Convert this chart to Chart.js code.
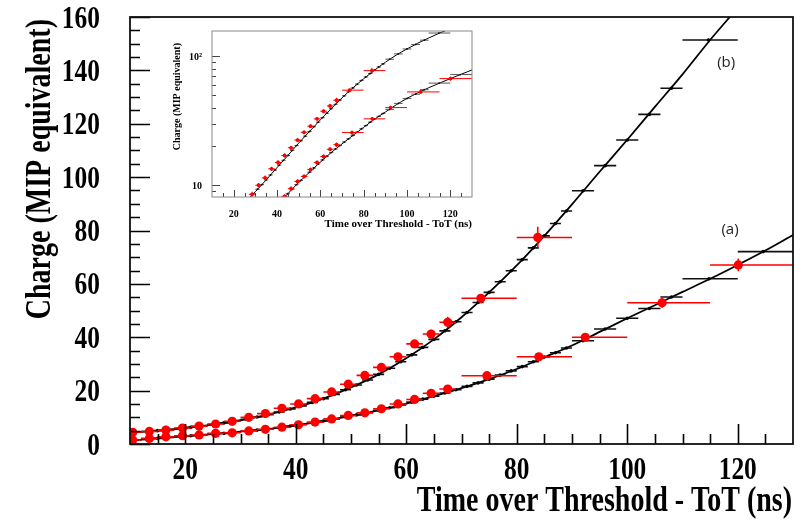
<!DOCTYPE html>
<html>
<head>
<meta charset="utf-8">
<title>Charge vs Time over Threshold</title>
<script src="https://cdn.jsdelivr.net/npm/chart.js@4.4.1/dist/chart.umd.min.js"></script>
<style>
    html, body { margin: 0; padding: 0; background: #fff; }
    #wrap { position: relative; width: 804px; height: 521px; }
    #main { position: absolute; left: 0; top: 0; }
    #inset { position: absolute; left: 160px; top: 22px; background: #fff; }
</style>
</head>
<body>
<div id="wrap">
    <canvas id="main" width="804" height="521"></canvas>
    <canvas id="inset" width="320" height="215"></canvas>
</div>
<script>
    'use strict';

    // axis ticks
    const TOT_TICKS = [20, 40, 60, 80, 100, 120];
    const CHARGE_TICKS = [0, 20, 40, 60, 80, 100, 120, 140, 160];
    const INSET_CHARGE_TICKS = [10, 100];
    const INSET_CHARGE_LABELS = ['10', '10²'];
    const INSET_CHARGE_MINOR = [9, 20, 30, 40, 50, 60, 70, 80, 90];

    // measured points (red), curve (b)
    const dataTotB = [10.5, 13.5, 16.5, 19.5, 22.5, 25.5, 28.5, 31.5, 34.5, 37.5, 40.5, 43.5, 46.5, 49.5, 52.5, 55.5, 58.5, 61.5, 64.5, 67.5, 73.5, 83.8];
    const dataLoB = [9, 12, 15, 18, 21, 24, 27, 30, 33, 36, 39, 42, 45, 48, 51, 54, 57, 60, 63, 66, 70, 80];
    const dataHiB = [12, 15, 18, 21, 24, 27, 30, 33, 36, 39, 42, 45, 48, 51, 54, 57, 60, 63, 66, 69, 80, 90];
    const dataChargeB = [4.4, 4.7, 5.2, 6.0, 6.7, 7.5, 8.5, 10.0, 11.4, 13.4, 15.0, 17.0, 19.5, 22.4, 25.7, 28.7, 32.7, 37.5, 41.2, 45.6, 54.6, 77.4];
    const dataErrB = [0.3, 0.3, 0.3, 0.3, 0.3, 0.4, 0.4, 0.4, 0.5, 0.5, 0.6, 0.6, 0.7, 0.8, 0.9, 1.0, 1.1, 1.3, 1.6, 2.1, 1.5, 4.0];

    // measured points (red), curve (a)
    const dataTotA = [10.5, 13.5, 16.5, 19.5, 22.5, 25.5, 28.5, 31.5, 34.5, 37.5, 40.5, 43.5, 46.5, 49.5, 52.5, 55.5, 58.5, 61.5, 64.5, 67.5, 74.6, 84.0, 92.4, 106.3, 120.1];
    const dataLoA = [9, 12, 15, 18, 21, 24, 27, 30, 33, 36, 39, 42, 45, 48, 51, 54, 57, 60, 63, 66, 70, 80, 90, 100, 115];
    const dataHiA = [12, 15, 18, 21, 24, 27, 30, 33, 36, 39, 42, 45, 48, 51, 54, 57, 60, 63, 66, 69, 80, 90, 100, 115, 130];
    const dataChargeA = [1.5, 2.1, 2.7, 3.1, 3.4, 4.0, 4.2, 4.9, 5.5, 6.3, 7.2, 8.2, 9.4, 10.7, 11.7, 13.2, 15.0, 16.7, 19.0, 20.6, 25.6, 32.7, 40.0, 52.9, 67.1];
    const dataErrA = [0.2, 0.2, 0.2, 0.2, 0.2, 0.2, 0.2, 0.3, 0.3, 0.3, 0.3, 0.3, 0.4, 0.4, 0.4, 0.5, 0.5, 0.6, 0.6, 0.8, 0.9, 1.0, 1.2, 1.8, 2.4];

    // simulation points (black), curve (b)
    const simTotB = [11, 13, 15, 17, 19, 21, 23, 25, 27, 29, 31, 33, 35, 37, 39, 41, 43, 45, 47, 49, 51, 53, 55, 57, 59, 61, 63, 65, 67, 69, 71, 73, 75, 77, 79, 81, 83, 85, 87, 89, 92, 96, 100, 104, 108, 114.7];
    const simEdgesB = [10, 12, 14, 16, 18, 20, 22, 24, 26, 28, 30, 32, 34, 36, 38, 40, 42, 44, 46, 48, 50, 52, 54, 56, 58, 60, 62, 64, 66, 68, 70, 72, 74, 76, 78, 80, 82, 84, 86, 88, 90, 94, 98, 102, 106, 110, 120];
    const simChargeB = [4.4, 4.7, 5.0, 5.4, 5.8, 6.3, 6.8, 7.3, 7.9, 8.6, 9.3, 10.1, 11.0, 12.0, 13.1, 14.3, 15.6, 17.0, 18.6, 20.3, 22.1, 24.0, 26.1, 28.4, 30.8, 33.4, 36.2, 39.2, 42.4, 45.8, 49.3, 53.0, 56.8, 60.8, 64.9, 69.1, 73.5, 78.0, 82.6, 87.3, 94.9, 104.3, 113.9, 123.5, 133.3, 151.4];

    // simulation points (black), curve (a)
    const simTotA = [11, 13, 15, 17, 19, 21, 23, 25, 27, 29, 31, 33, 35, 37, 39, 41, 43, 45, 47, 49, 51, 53, 55, 57, 59, 61, 63, 65, 67, 69, 71, 73, 75, 77, 79, 81, 83, 85, 87, 89, 92, 96, 100, 104, 108, 114.8, 124.6];
    const simEdgesA = [10, 12, 14, 16, 18, 20, 22, 24, 26, 28, 30, 32, 34, 36, 38, 40, 42, 44, 46, 48, 50, 52, 54, 56, 58, 60, 62, 64, 66, 68, 70, 72, 74, 76, 78, 80, 82, 84, 86, 88, 90, 94, 98, 102, 106, 110, 120, 130];
    const simChargeA = [1.5, 1.8, 2.1, 2.5, 2.8, 3.1, 3.4, 3.7, 4.0, 4.4, 4.8, 5.2, 5.6, 6.1, 6.7, 7.3, 7.9, 8.6, 9.3, 10.1, 10.9, 11.7, 12.6, 13.6, 14.6, 15.7, 16.8, 17.9, 19.1, 20.3, 21.6, 22.9, 24.3, 25.8, 27.4, 29.0, 30.8, 32.6, 34.2, 36.0, 38.7, 43.1, 47.1, 50.8, 55.1, 61.9, 72.1];

    // fitted curves
    const fitTot = [10, 15, 20, 25, 30, 35, 40, 45, 50, 55, 60, 65, 70, 75, 80, 85, 90, 95, 100, 105, 110, 115, 120, 125, 130];
    const fitChargeB = [4.3, 5.0, 6.0, 7.3, 8.9, 11.0, 13.7, 17.0, 21.2, 26.1, 32.1, 39.2, 47.5, 56.8, 66.9, 78.0, 89.8, 102.0, 114.0, 126.3, 138.5, 151.4, 163.5, 176.0, 189.0];
    const fitChargeA = [1.3, 2.1, 2.95, 3.7, 4.6, 5.6, 7.0, 8.6, 10.5, 12.6, 15.1, 17.9, 20.9, 24.3, 28.1, 32.5, 36.9, 42.0, 47.1, 52.0, 57.0, 61.9, 67.1, 72.5, 78.3];

    const curveLabels = [
        { text: '(b)', x: 117.9, y: 142.7 },
        { text: '(a)', x: 118.6, y: 80.2 },
    ];

    const RED = '#ff0000';
    const SERIF = '"Liberation Serif", "Times New Roman", serif';

    function points(xs, ys, lo, hi, err) {
        return xs.map(function (x, i) {
            return {
                x: x,
                y: ys[i],
                xMin: lo[i],
                xMax: hi[i],
                yMin: err ? ys[i] - err[i] : undefined,
                yMax: err ? ys[i] + err[i] : undefined,
            };
        });
    }

    function curve(xs, ys) {
        return xs.map(function (x, i) { return { x: x, y: ys[i] }; });
    }

    function buildDatasets(s) {
        return [
            {
                label: 'Data (b)',
                data: points(dataTotB, dataChargeB, dataLoB, dataHiB, dataErrB),
                pointRadius: s.red, backgroundColor: RED, borderWidth: 0,
                errorBars: { color: RED, width: s.bar },
            },
            {
                label: 'Data (a)',
                data: points(dataTotA, dataChargeA, dataLoA, dataHiA, dataErrA),
                pointRadius: s.red, backgroundColor: RED, borderWidth: 0,
                errorBars: { color: RED, width: s.bar },
            },
            {
                label: 'Sim (b)',
                data: points(simTotB, simChargeB, simEdgesB.slice(0, -1), simEdgesB.slice(1)),
                pointRadius: s.black, backgroundColor: '#000', borderWidth: 0,
                errorBars: { color: s.simColor, width: s.bar },
            },
            {
                label: 'Sim (a)',
                data: points(simTotA, simChargeA, simEdgesA.slice(0, -1), simEdgesA.slice(1)),
                pointRadius: s.black, backgroundColor: '#000', borderWidth: 0,
                errorBars: { color: s.simColor, width: s.bar },
            },
            {
                label: 'Fit (b)',
                data: curve(fitTot, fitChargeB),
                showLine: true, pointRadius: 0, borderColor: '#000', borderWidth: s.line,
                cubicInterpolationMode: 'monotone',
            },
            {
                label: 'Fit (a)',
                data: curve(fitTot, fitChargeA),
                showLine: true, pointRadius: 0, borderColor: '#000', borderWidth: s.line,
                cubicInterpolationMode: 'monotone',
            },
        ];
    }

    // horizontal (bin width) and vertical error bars, drawn under each dataset's markers
    const errorBars = {
        id: 'errorBars',
        beforeDatasetDraw: function (chart, args) {
            const ds = chart.data.datasets[args.index];
            if (!ds.errorBars) {
                return;
            }
            const { ctx, chartArea: a, scales: { x, y } } = chart;
            ctx.save();
            ctx.beginPath();
            ctx.rect(a.left, a.top, a.right - a.left, a.bottom - a.top);
            ctx.clip();
            ctx.strokeStyle = ds.errorBars.color;
            ctx.lineWidth = ds.errorBars.width;
            ctx.beginPath();
            ds.data.forEach(function (p) {
                const px = x.getPixelForValue(p.x);
                const py = y.getPixelForValue(p.y);
                ctx.moveTo(x.getPixelForValue(p.xMin), py);
                ctx.lineTo(x.getPixelForValue(p.xMax), py);
                if (p.yMin !== undefined) {
                    ctx.moveTo(px, y.getPixelForValue(Math.max(p.yMin, 0.01)));
                    ctx.lineTo(px, y.getPixelForValue(p.yMax));
                }
            });
            ctx.stroke();
            ctx.restore();
        },
    };

    function tickMarks(values, len) {
        return values.map(function (v) { return { v: v, len: len }; });
    }

    function linearMinor(min, max, step, majors) {
        const out = [];
        for (let v = min; v <= max; v += step) {
            if (majors.indexOf(v) < 0) {
                out.push(v);
            }
        }
        return out;
    }

    // ROOT-like frame with ticks pointing inwards, plus tick labels
    const frameTicks = {
        id: 'frameTicks',
        afterDatasetsDraw: function (chart, args, opts) {
            const { ctx, chartArea: a, scales } = chart;
            ctx.save();
            ctx.strokeStyle = opts.tickColor;
            ctx.lineWidth = opts.tickWidth;
            ctx.beginPath();
            opts.x.forEach(function (t) {
                const px = Math.round(scales.x.getPixelForValue(t.v)) + 0.5;
                ctx.moveTo(px, a.bottom);
                ctx.lineTo(px, a.bottom - t.len);
            });
            opts.y.forEach(function (t) {
                const py = Math.round(scales.y.getPixelForValue(t.v)) + 0.5;
                ctx.moveTo(a.left, py);
                ctx.lineTo(a.left + t.len, py);
            });
            ctx.stroke();
            ctx.lineWidth = opts.frameWidth;
            ctx.strokeStyle = opts.frameColor;
            ctx.strokeRect(a.left, a.top, a.right - a.left, a.bottom - a.top);

            const lab = opts.labels;
            ctx.font = lab.font;
            ctx.fillStyle = '#000';
            ctx.textBaseline = 'alphabetic';
            lab.x.values.forEach(function (v, i) {
                ctx.save();
                ctx.translate(scales.x.getPixelForValue(v), a.bottom + lab.x.offset);
                ctx.scale(lab.squeeze, 1);
                ctx.textAlign = 'center';
                ctx.fillText(lab.x.text[i], 0, 0);
                ctx.restore();
            });
            lab.y.values.forEach(function (v, i) {
                ctx.save();
                ctx.translate(a.left - lab.y.offset, scales.y.getPixelForValue(v) + lab.y.shift);
                ctx.scale(lab.squeeze, 1);
                ctx.textAlign = 'right';
                ctx.fillText(lab.y.text[i], 0, 0);
                ctx.restore();
            });
            ctx.restore();
        },
    };

    // axis titles (right/top aligned like ROOT) and curve labels
    const axisText = {
        id: 'axisText',
        afterDraw: function (chart, args, opts) {
            const ctx = chart.ctx;
            (opts.titles || []).forEach(function (t) {
                ctx.save();
                ctx.translate(t.x, t.y);
                if (t.rotate) {
                    ctx.rotate(-Math.PI / 2);
                }
                ctx.scale(t.squeeze || 1, 1);
                ctx.font = t.font;
                ctx.fillStyle = '#000';
                ctx.textAlign = 'right';
                ctx.textBaseline = 'alphabetic';
                ctx.fillText(t.text, 0, 0);
                ctx.restore();
            });
            (opts.labels || []).forEach(function (l) {
                ctx.save();
                ctx.font = opts.labelFont;
                ctx.fillStyle = '#222';
                ctx.textAlign = 'center';
                ctx.textBaseline = 'middle';
                ctx.fillText(l.text, chart.scales.x.getPixelForValue(l.x), chart.scales.y.getPixelForValue(l.y));
                ctx.restore();
            });
        },
    };

    function fixedScale(type, min, max, size) {
        return {
            type: type, min: min, max: max,
            afterFit: function (s) {
                if (s.isHorizontal()) {
                    s.height = size;
                } else {
                    s.width = size;
                }
                s.paddingTop = 0;
                s.paddingBottom = 0;
                s.paddingLeft = 0;
                s.paddingRight = 0;
            },
            grid: { display: false },
            border: { display: false },
            ticks: { display: false },
        };
    }

    const mainChart = new Chart(document.getElementById('main'), {
        type: 'scatter',
        data: { datasets: buildDatasets({ red: 4.6, black: 1.8, bar: 1.6, line: 1.8, simColor: '#111' }) },
        plugins: [errorBars, frameTicks, axisText],
        options: {
            responsive: false,
            devicePixelRatio: 1,
            animation: false,
            events: [],
            layout: { padding: { left: 0, right: 11, top: 17, bottom: 0 } },
            scales: {
                x: fixedScale('linear', 10, 130, 77),
                y: fixedScale('linear', 0, 160, 130),
            },
            plugins: {
                legend: { display: false },
                tooltip: { enabled: false },
                frameTicks: {
                    tickColor: '#000', tickWidth: 1.6, frameColor: '#111', frameWidth: 1.8,
                    x: tickMarks(TOT_TICKS, 20).concat(tickMarks(linearMinor(15, 125, 5, TOT_TICKS), 10)),
                    y: tickMarks(CHARGE_TICKS, 20).concat(tickMarks(linearMinor(5, 155, 5, CHARGE_TICKS), 10)),
                    labels: {
                        font: 'bold 31px ' + SERIF,
                        squeeze: 0.82,
                        x: { values: TOT_TICKS, text: TOT_TICKS.map(String), offset: 35 },
                        y: { values: CHARGE_TICKS, text: CHARGE_TICKS.map(String), offset: 30, shift: 10.5 },
                    },
                },
                axisText: {
                    titles: [
                        { text: 'Time over Threshold - ToT (ns)', x: 792, y: 511, font: 'bold 35px ' + SERIF, squeeze: 0.8 },
                        { text: 'Charge (MIP equivalent)', x: 50, y: 19, rotate: true, font: 'bold 35px ' + SERIF, squeeze: 0.8 },
                    ],
                    labels: curveLabels,
                    labelFont: '15px "Open Sans", Lato, sans-serif',
                },
            },
        },
    });

    const insetChart = new Chart(document.getElementById('inset'), {
        type: 'scatter',
        data: { datasets: buildDatasets({ red: 1.9, black: 0.9, bar: 1, line: 1, simColor: '#555' }) },
        plugins: [errorBars, frameTicks, axisText],
        options: {
            responsive: false,
            devicePixelRatio: 1,
            animation: false,
            events: [],
            layout: { padding: { left: 0, right: 8, top: 9, bottom: 0 } },
            scales: {
                x: fixedScale('linear', 10, 130, 40),
                y: fixedScale('logarithmic', 8.1, 157, 52),
            },
            plugins: {
                legend: { display: false },
                tooltip: { enabled: false },
                frameTicks: {
                    tickColor: '#444', tickWidth: 1, frameColor: '#888', frameWidth: 1,
                    x: tickMarks(TOT_TICKS, 7).concat(tickMarks(linearMinor(15, 125, 5, TOT_TICKS), 4)),
                    y: tickMarks(INSET_CHARGE_TICKS, 8).concat(tickMarks(INSET_CHARGE_MINOR, 4)),
                    labels: {
                        font: 'bold 10px ' + SERIF,
                        squeeze: 1,
                        x: { values: TOT_TICKS, text: TOT_TICKS.map(String), offset: 20 },
                        y: { values: INSET_CHARGE_TICKS, text: INSET_CHARGE_LABELS, offset: 10, shift: 3.4 },
                    },
                },
                axisText: {
                    titles: [
                        { text: 'Time over Threshold - ToT (ns)', x: 312, y: 204.5, font: 'bold 11px ' + SERIF },
                        { text: 'Charge (MIP equivalent)', x: 20, y: 21, rotate: true, font: 'bold 10px ' + SERIF },
                    ],
                },
            },
        },
    });
</script>
</body>
</html>
